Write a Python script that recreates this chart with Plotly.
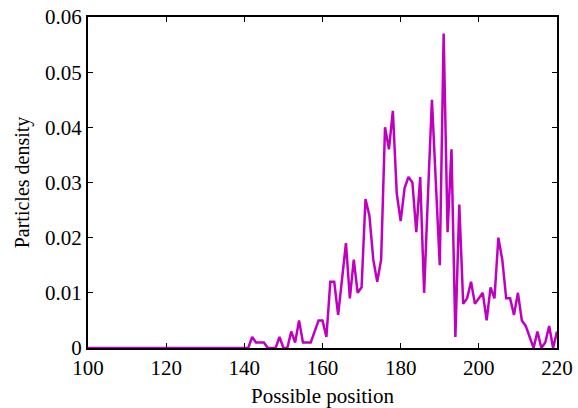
import plotly.graph_objects as go

positions = list(range(100, 221))
density = [
    0, 0, 0, 0, 0, 0, 0, 0, 0, 0,            # 100-109
    0, 0, 0, 0, 0, 0, 0, 0, 0, 0,            # 110-119
    0, 0, 0, 0, 0, 0, 0, 0, 0, 0,            # 120-129
    0, 0, 0, 0, 0, 0, 0, 0, 0, 0,            # 130-139
    0, 0, 0.002, 0.001, 0.001, 0.001, 0, 0, 0, 0.002,   # 140-149
    0, 0, 0.003, 0.001, 0.005, 0.001, 0.001, 0.001, 0.003, 0.005,  # 150-159
    0.005, 0.002, 0.012, 0.012, 0.006, 0.012, 0.019, 0.009, 0.016, 0.010,  # 160-169
    0.011, 0.027, 0.024, 0.016, 0.012, 0.016, 0.040, 0.036, 0.043, 0.028,  # 170-179
    0.023, 0.029, 0.031, 0.030, 0.021, 0.031, 0.010, 0.028, 0.045, 0.030,  # 180-189
    0.015, 0.057, 0.021, 0.036, 0.002, 0.026, 0.008, 0.009, 0.012, 0.008,  # 190-199
    0.009, 0.010, 0.005, 0.011, 0.009, 0.020, 0.016, 0.009, 0.009, 0.006,  # 200-209
    0.010, 0.005, 0.004, 0.002, 0, 0.003, 0, 0.001, 0.004, 0,             # 210-219
    0.003,                                                                  # 220
]

x_ticks = [100, 120, 140, 160, 180, 200, 220]
y_ticks = [0, 0.01, 0.02, 0.03, 0.04, 0.05, 0.06]
y_tick_labels = ["0", "0.01", "0.02", "0.03", "0.04", "0.05", "0.06"]

fig = go.Figure()
fig.add_trace(go.Scatter(
    x=positions, y=density, mode="lines",
    line=dict(color="#C000C0", width=2.5),
    showlegend=False,
))

font_family = "Liberation Serif"
fig.update_layout(
    width=578, height=408,
    margin=dict(l=88, r=21, t=17, b=60),
    paper_bgcolor="white", plot_bgcolor="white",
    font=dict(family=font_family, size=21, color="black"),
)
fig.update_xaxes(
    range=[100, 220], tickvals=x_ticks, ticks="inside", ticklen=5,
    tickcolor="black", showline=True, linecolor="black", linewidth=2,
    mirror="ticks", showgrid=False, zeroline=False, automargin=False,
    tickfont=dict(size=21),
    title=dict(text="Possible position", font=dict(size=21), standoff=12),
)
fig.update_yaxes(
    range=[0, 0.06], tickvals=y_ticks, ticktext=y_tick_labels,
    ticks="inside", ticklen=5, tickcolor="black",
    showline=True, linecolor="black", linewidth=2, mirror="ticks",
    showgrid=False, zeroline=False, automargin=False,
    tickfont=dict(size=21),
    title=dict(text="Particles density", font=dict(size=20), standoff=10),
)

fig.write_html(
    "out.html",
    config={"displayModeBar": False},
    post_script="document.body.style.margin='0';document.body.style.overflow='hidden';",
)
